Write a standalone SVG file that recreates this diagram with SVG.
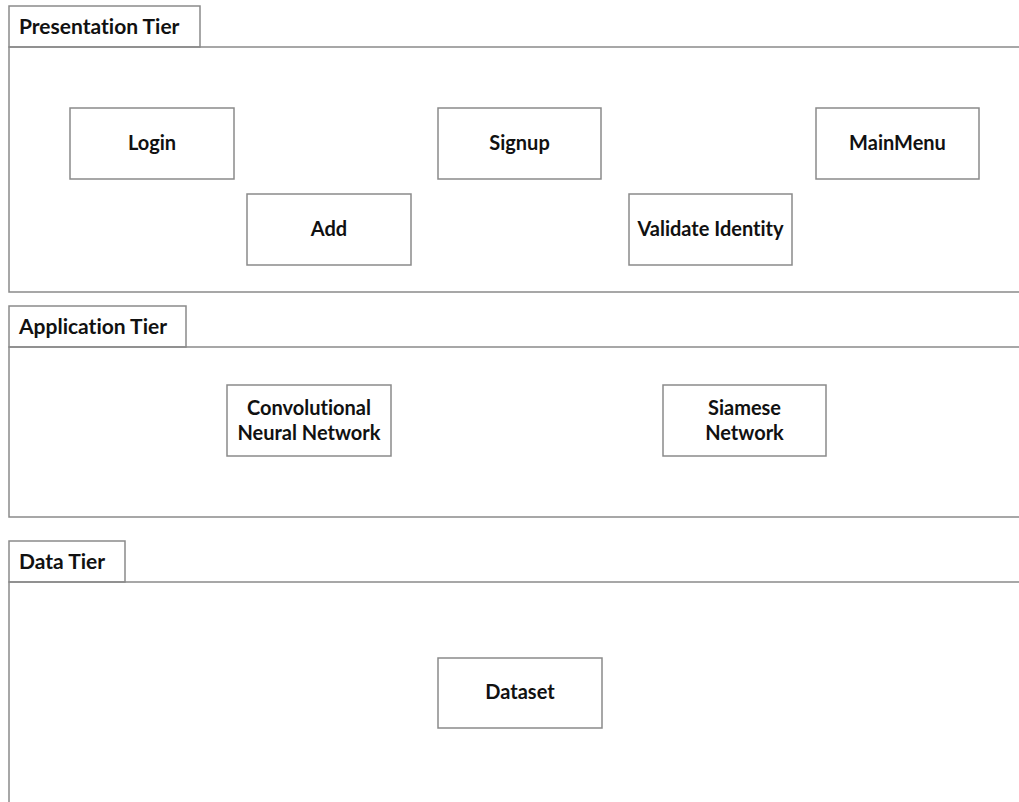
<svg xmlns="http://www.w3.org/2000/svg" width="1019" height="802" viewBox="0 0 1019 802">
  <style>
    .frame { fill: none; stroke: #8a8a8a; stroke-width: 1.5; }
    .box { fill: #ffffff; stroke: #8a8a8a; stroke-width: 1.5; }
    .lbl { font-family: Lato, "Open Sans", sans-serif; font-weight: bold; font-size: 20px; fill: #111111; font-variant-ligatures: none; font-feature-settings: "liga" 0, "dlig" 0; }
    .tab { font-size: 21px; }
    .ctr { text-anchor: middle; }
  </style>
  <rect width="1019" height="802" fill="#ffffff"/>

  <!-- Presentation tier -->
  <g id="tier-presentation">
    <rect class="frame" x="9" y="6" width="191" height="41"/>
    <path class="frame" d="M1025 47 H9 V292 H1025"/>
    <text class="lbl tab" x="19" y="34">Presentation Tier</text>
  </g>

  <!-- Application tier -->
  <g id="tier-application">
    <rect class="frame" x="9" y="306" width="177" height="41"/>
    <path class="frame" d="M1025 347 H9 V517 H1025"/>
    <text class="lbl tab" x="19" y="334">Application Tier</text>
  </g>

  <!-- Data tier -->
  <g id="tier-data">
    <rect class="frame" x="9" y="541" width="116" height="41"/>
    <path class="frame" d="M1025 582 H9 V810"/>
    <text class="lbl tab" x="19" y="569">Data Tier</text>
  </g>

  <g id="node-login">
    <rect class="box" x="70" y="108" width="164" height="71"/>
    <text class="lbl ctr" x="152" y="150">Login</text>
  </g>
  <g id="node-signup">
    <rect class="box" x="438" y="108" width="163" height="71"/>
    <text class="lbl ctr" x="519.5" y="150">Signup</text>
  </g>
  <g id="node-mainmenu">
    <rect class="box" x="816" y="108" width="163" height="71"/>
    <text class="lbl ctr" x="897.5" y="150">MainMenu</text>
  </g>
  <g id="node-add">
    <rect class="box" x="247" y="194" width="164" height="71"/>
    <text class="lbl ctr" x="329" y="236">Add</text>
  </g>
  <g id="node-validate">
    <rect class="box" x="629" y="194" width="163" height="71"/>
    <text class="lbl ctr" x="710.5" y="236">Validate Identity</text>
  </g>
  <g id="node-cnn">
    <rect class="box" x="227" y="385" width="164" height="71"/>
    <text class="lbl ctr" x="309" y="415">Convolutional</text>
    <text class="lbl ctr" x="309" y="440">Neural Network</text>
  </g>
  <g id="node-siamese">
    <rect class="box" x="663" y="385" width="163" height="71"/>
    <text class="lbl ctr" x="744.5" y="415">Siamese</text>
    <text class="lbl ctr" x="744.5" y="440">Network</text>
  </g>
  <g id="node-dataset">
    <rect class="box" x="438" y="658" width="164" height="70"/>
    <text class="lbl ctr" x="520" y="699">Dataset</text>
  </g>

  <g id="connectors"></g>
</svg>
